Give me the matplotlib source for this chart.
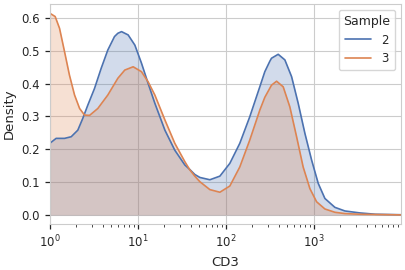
import matplotlib
matplotlib.use("Agg")
import matplotlib.pyplot as plt
import seaborn as sns
import numpy as np

# density curves (CD3 value, density)
cd3_s2 = [1.0, 1.18, 1.47, 1.75, 2.08, 2.37, 2.70, 3.22, 3.83, 4.56, 5.43, 5.93,
          6.53, 7.76, 9.25, 11.0, 13.1, 15.6, 20.3, 26.3, 34.2, 39.0, 44.4,
          50.7, 65.8, 85.5, 111, 144, 187, 243, 277, 316, 330, 393, 468, 558,
          663, 791, 942, 1120, 1334, 1732, 2250, 3333, 5000, 9750]
dens_s2 = [0.218, 0.233, 0.233, 0.238, 0.258, 0.294, 0.334, 0.385, 0.446, 0.502,
           0.543, 0.553, 0.558, 0.548, 0.517, 0.462, 0.40, 0.34, 0.258, 0.197,
           0.152, 0.138, 0.123, 0.114, 0.107, 0.118, 0.157, 0.218, 0.299, 0.39,
           0.436, 0.468, 0.477, 0.489, 0.472, 0.421, 0.34, 0.248, 0.167, 0.096,
           0.05, 0.023, 0.012, 0.006, 0.002, 0.0005]

cd3_s3 = [1.0, 1.15, 1.29, 1.47, 1.67, 1.91, 2.18, 2.48, 2.83, 3.51, 4.56, 5.93,
          7.11, 8.85, 11.0, 13.1, 15.6, 20.3, 26.3, 34.2, 39.0, 44.4, 50.7,
          65.8, 85.5, 111, 144, 187, 243, 277, 330, 377, 448, 533, 636, 755,
          901, 1073, 1334, 1732, 2250, 3333, 9750]
dens_s3 = [0.614, 0.604, 0.568, 0.497, 0.426, 0.365, 0.324, 0.304, 0.303, 0.324,
           0.365, 0.416, 0.441, 0.451, 0.436, 0.405, 0.365, 0.289, 0.218, 0.162,
           0.137, 0.118, 0.101, 0.077, 0.069, 0.088, 0.146, 0.228, 0.319, 0.358,
           0.395, 0.407, 0.39, 0.329, 0.238, 0.146, 0.080, 0.040, 0.018, 0.008,
           0.004, 0.002, 0.0]

samples = ["2", "3"]
palette = sns.color_palette("deep")

sns.set_style("whitegrid")
plt.rcParams["xtick.bottom"] = True
plt.rcParams["ytick.left"] = True

fig = plt.figure(figsize=(4.05, 2.7), dpi=100)
ax = fig.add_axes([0.123, 0.170, 0.867, 0.815])

series = [(cd3_s2, dens_s2), (cd3_s3, dens_s3)]
for (xs, ys), name, col in zip(series, samples, palette[:2]):
    ax.fill_between(xs, 0, ys, color=col, alpha=0.25, linewidth=0)
    ax.plot(xs, ys, color=col, lw=1.2, label=name)

ax.set_xscale("log")
ax.set_xlim(1, 9750)
ax.set_ylim(-0.028, 0.642)
ax.set_yticks(np.arange(0, 0.61, 0.1))
ax.tick_params(labelsize=8.5, length=3.5, width=0.9, which="major", color=".15")
ax.tick_params(which="minor", length=2, width=0.6, color=".15")
ax.set_xlabel("CD3", fontsize=9.5)
ax.set_ylabel("Density", fontsize=9.5)
ax.grid(True, which="major", color=".8", lw=0.8)
ax.grid(False, which="minor")
for s in ax.spines.values():
    s.set_color(".8")

ax.legend(title="Sample", loc="upper right", fontsize=8.5, title_fontsize=9,
          handlelength=2.2)

fig.savefig("out.png", dpi=100)
